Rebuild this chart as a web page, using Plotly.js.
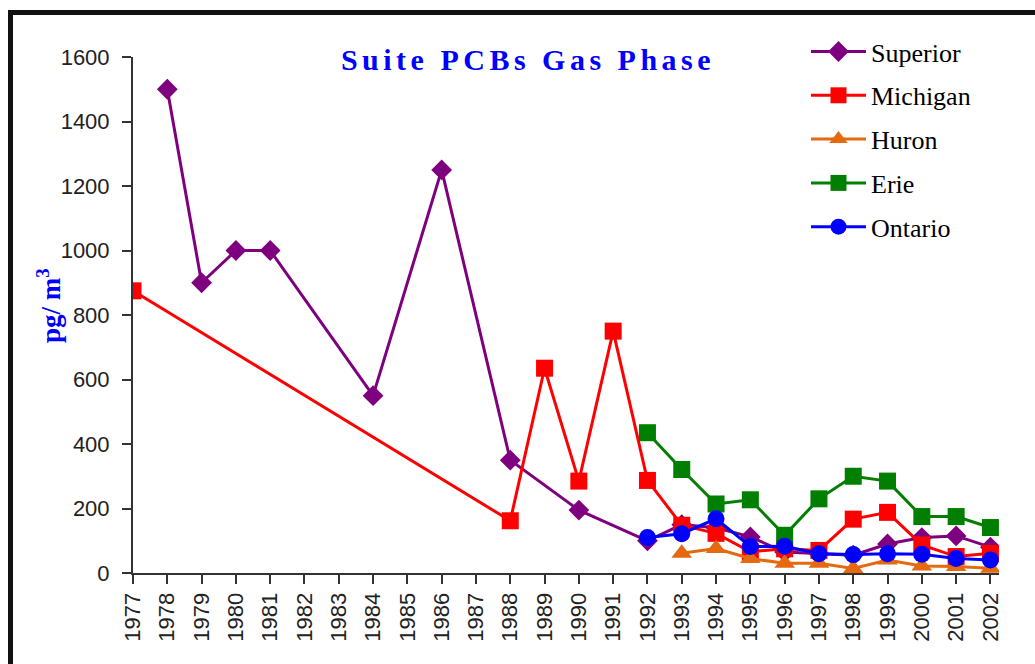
<!DOCTYPE html>
<html>
<head>
<meta charset="utf-8">
<script src="https://cdn.plot.ly/plotly-3.0.1.min.js"></script>
<style>
  html, body { margin: 0; padding: 0; background: #fff; }
  #wrap { position: relative; width: 1035px; height: 664px; overflow: hidden; }
  #chart { position: absolute; left: 0; top: 0; width: 1035px; height: 664px; }
  #frame { position: absolute; left: 8px; top: 10px; width: 1100px; height: 700px;
           border-left: 5px solid #111; border-top: 5px solid #111; pointer-events: none; }
  .gtitle { letter-spacing: 4.5px; }
</style>
</head>
<body>
<div id="wrap"><div id="chart"></div><div id="frame"></div></div>
<script>
const years = [1977,1978,1979,1980,1981,1982,1983,1984,1985,1986,1987,1988,1989,1990,1991,1992,1993,1994,1995,1996,1997,1998,1999,2000,2001,2002];
const tickLabels = years.map(String);

const superiorYears = [1978,1979,1980,1981,1984,1986,1988,1990,1992,1993,1994,1995,1996,1997,1998,1999,2000,2001,2002];
const superiorVals  = [1500,900,1000,1000,550,1250,350,195,100,150,140,112,65,60,55,90,110,115,80];

const michiganYears = [1977,1988,1989,1990,1991,1992,1993,1994,1995,1996,1997,1998,1999,2000,2001,2002];
const michiganVals  = [875,162,635,285,750,287,148,123,66,75,70,167,188,87,51,61];

const huronYears = [1993,1994,1995,1996,1997,1998,1999,2000,2001,2002];
const huronVals  = [61,76,45,30,30,14,40,22,20,15];

const erieYears = [1992,1993,1994,1995,1996,1997,1998,1999,2000,2001,2002];
const erieVals  = [435,321,214,227,117,230,300,285,175,175,141];

const ontarioYears = [1992,1993,1994,1995,1996,1997,1998,1999,2000,2001,2002];
const ontarioVals  = [110,122,168,82,83,60,57,60,58,45,40];

function series(name, xs, ys, color, symbol, size, group) {
  return {
    type: 'scatter', mode: 'lines+markers', name: name, x: xs, y: ys,
    legendgroup: group,
    line: { color: color, width: 3 },
    marker: { color: color, symbol: symbol, size: size, line: { width: 0 } }
  };
}

const data = [
  series('Superior', superiorYears, superiorVals, '#7F007F', 'diamond', 16, 'g1'),
  series('Michigan', michiganYears, michiganVals, '#FF0000', 'square', 17, 'g2'),
  series('Huron', huronYears, huronVals, '#E4690F', 'triangle-up', 18, 'g3'),
  series('Erie', erieYears, erieVals, '#007F00', 'square', 17, 'g4'),
  series('Ontario', ontarioYears, ontarioVals, '#0000FF', 'circle', 17, 'g5')
];

const layout = {
  width: 1035, height: 664,
  paper_bgcolor: '#ffffff', plot_bgcolor: '#ffffff',
  margin: { l: 133, r: 36, t: 57, b: 91 },
  showlegend: true,
  title: {
    text: '<b>Suite PCBs Gas Phase</b>',
    font: { family: 'Liberation Serif', size: 30, color: '#0000FF' },
    xref: 'paper', x: (528-133)/866, xanchor: 'center',
    yref: 'container', y: 1 - 59/664, yanchor: 'middle'
  },
  xaxis: {
    range: [1977, 2002.25],
    tickmode: 'array', tickvals: years, ticktext: tickLabels,
    tickangle: -90,
    ticks: 'outside', ticklen: 9, tickwidth: 2, tickcolor: '#333',
    showline: true, linecolor: '#333', linewidth: 2,
    showgrid: false, zeroline: false,
    tickfont: { family: 'Liberation Sans', size: 22, color: '#222' }
  },
  yaxis: {
    range: [0, 1600], tickmode: 'array', tickvals: [0,200,400,600,800,1000,1200,1400,1600],
    ticks: 'outside', ticklen: 9, tickwidth: 2, tickcolor: '#333',
    ticklabelstandoff: 8,
    showline: true, linecolor: '#333', linewidth: 2,
    showgrid: false, zeroline: false,
    tickfont: { family: 'Liberation Sans', size: 22, color: '#222' }
  },
  annotations: [{
    text: '<b>pg/ m<sup>3</sup></b>',
    xref: 'paper', yref: 'paper', x: (49-133)/866, y: (573-306)/516,
    xanchor: 'center', yanchor: 'middle', textangle: -90, showarrow: false,
    font: { family: 'Liberation Serif', size: 27, color: '#0000FF' }
  }],
  legend: {
    x: (806-133)/866, y: 1.056, xanchor: 'left', yanchor: 'top',
    bgcolor: 'rgba(0,0,0,0)', borderwidth: 0,
    font: { family: 'Liberation Serif', size: 26, color: '#000' },
    tracegroupgap: 7, itemwidth: 55
  }
};

Plotly.newPlot('chart', data, layout, { displayModeBar: false, staticPlot: true });
</script>
</body>
</html>
